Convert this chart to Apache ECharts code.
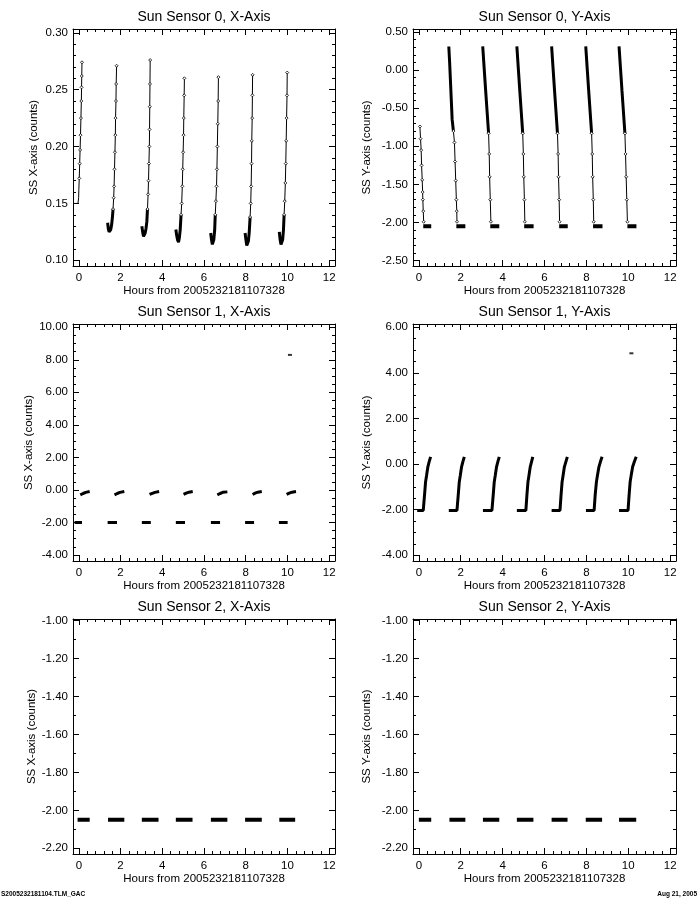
<!DOCTYPE html>
<html>
<head>
<meta charset="utf-8">
<script src="https://cdn.jsdelivr.net/npm/echarts@6/dist/echarts.min.js"></script>
<style>html,body{margin:0;padding:0;background:#fff}#c{width:700px;height:900px}</style>
</head>
<body>
<div id="c"></div>
<script>
// ---------- data (hours, counts) ; null breaks a segment ----------
const hourTicks = [0, 2, 4, 6, 8, 10, 12];
const xLabel = 'Hours from 2005232181107328';
const titles = ['Sun Sensor 0, X-Axis', 'Sun Sensor 0, Y-Axis', 'Sun Sensor 1, X-Axis', 'Sun Sensor 1, Y-Axis', 'Sun Sensor 2, X-Axis', 'Sun Sensor 2, Y-Axis'];
const yNames = ['SS X-axis (counts)', 'SS Y-axis (counts)', 'SS X-axis (counts)', 'SS Y-axis (counts)', 'SS X-axis (counts)', 'SS Y-axis (counts)'];

const ticks0x = [0.10, 0.15, 0.20, 0.25, 0.30];
const ticks0y = [-2.5, -2.0, -1.5, -1.0, -0.5, 0.0, 0.5];
const ticks1x = [-4, -2, 0, 2, 4, 6, 8, 10];
const ticks1y = [-4, -2, 0, 2, 4, 6];
const ticks2 = [-2.2, -2.0, -1.8, -1.6, -1.4, -1.2, -1.0];

// Sensor 0 X: first thin step, bottom hooks (thick) and steep rises (sparse diamonds)
const ss0xStart = [
  [-0.27,0.150],[-0.15,0.150],[-0.04,0.150],[-0.01,0.155],[0.00,0.162],[0.02,0.172]
];
const ss0xHook = [
  [1.38,0.133],[1.41,0.128],[1.45,0.125],[1.49,0.124],[1.53,0.127],[1.57,0.131],[1.61,0.138],[1.64,0.145], null,
  [3.02,0.130],[3.06,0.125],[3.10,0.121],[3.14,0.120],[3.18,0.124],[3.22,0.128],[3.26,0.134],[3.29,0.145], null,
  [4.65,0.127],[4.69,0.122],[4.73,0.118],[4.78,0.116],[4.82,0.120],[4.86,0.127],[4.90,0.140], null,
  [6.32,0.124],[6.36,0.118],[6.40,0.114],[6.43,0.113],[6.47,0.118],[6.51,0.126],[6.54,0.140], null,
  [7.97,0.124],[8.01,0.118],[8.05,0.113],[8.09,0.112],[8.13,0.117],[8.17,0.125],[8.21,0.138], null,
  [9.61,0.125],[9.65,0.118],[9.69,0.114],[9.73,0.113],[9.77,0.118],[9.81,0.127],[9.84,0.140]
];
const ss0xRise = [
  [0.02,0.172],[0.04,0.185],[0.06,0.197],[0.08,0.210],[0.10,0.225],[0.12,0.240],[0.13,0.252],[0.14,0.262],[0.15,0.274], null,
  [1.64,0.145],[1.67,0.155],[1.69,0.165],[1.71,0.180],[1.73,0.195],[1.75,0.210],[1.76,0.225],[1.78,0.240],[1.79,0.255],[1.81,0.271], null,
  [3.29,0.145],[3.32,0.158],[3.34,0.170],[3.36,0.185],[3.38,0.200],[3.39,0.215],[3.40,0.235],[3.41,0.255],[3.42,0.276], null,
  [4.90,0.140],[4.93,0.150],[4.96,0.165],[4.98,0.180],[5.00,0.195],[5.02,0.210],[5.03,0.225],[5.05,0.245],[5.06,0.260], null,
  [6.54,0.140],[6.57,0.152],[6.60,0.165],[6.62,0.180],[6.64,0.200],[6.66,0.220],[6.68,0.240],[6.69,0.261], null,
  [8.21,0.138],[8.24,0.150],[8.26,0.165],[8.28,0.185],[8.29,0.205],[8.31,0.225],[8.32,0.245],[8.33,0.263], null,
  [9.84,0.140],[9.87,0.152],[9.90,0.168],[9.92,0.185],[9.94,0.205],[9.96,0.225],[9.98,0.245],[9.99,0.265]
];

// Sensor 0 Y: thick upper descents, sparse lower descents, flats
const ss0yTop = [
  [1.43,0.31],[1.47,0.10],[1.51,-0.15],[1.55,-0.40],[1.59,-0.65],[1.65,-0.80], null,
  [3.05,0.31],[3.12,0.02],[3.19,-0.27],[3.26,-0.55],[3.33,-0.83], null,
  [4.68,0.31],[4.75,0.02],[4.82,-0.27],[4.89,-0.55],[4.96,-0.83], null,
  [6.34,0.31],[6.41,0.02],[6.48,-0.27],[6.55,-0.55],[6.62,-0.83], null,
  [7.97,0.31],[8.04,0.02],[8.11,-0.27],[8.18,-0.55],[8.25,-0.83], null,
  [9.56,0.31],[9.63,0.02],[9.70,-0.27],[9.77,-0.55],[9.84,-0.83]
];
const ss0yLow = [
  [0.05,-0.74],[0.08,-0.90],[0.11,-1.05],[0.13,-1.25],[0.16,-1.44],[0.18,-1.60],[0.19,-1.70],[0.21,-1.85],[0.23,-1.99], null,
  [1.65,-0.80],[1.70,-0.95],[1.73,-1.20],[1.76,-1.45],[1.79,-1.70],[1.81,-1.85],[1.82,-1.99], null,
  [3.33,-0.83],[3.36,-1.10],[3.38,-1.40],[3.41,-1.70],[3.44,-1.99], null,
  [4.96,-0.83],[4.99,-1.10],[5.01,-1.40],[5.04,-1.70],[5.06,-1.99], null,
  [6.62,-0.83],[6.65,-1.10],[6.67,-1.40],[6.70,-1.70],[6.72,-1.99], null,
  [8.25,-0.83],[8.28,-1.10],[8.30,-1.40],[8.33,-1.70],[8.35,-1.99], null,
  [9.84,-0.83],[9.87,-1.10],[9.90,-1.40],[9.93,-1.70],[9.96,-1.99]
];
const ss0yFlat = [
  [0.21,-2.05],[0.59,-2.05], null, [1.79,-2.05],[2.22,-2.05], null, [3.41,-2.05],[3.84,-2.05], null,
  [5.03,-2.05],[5.48,-2.05], null, [6.70,-2.05],[7.11,-2.05], null, [8.32,-2.05],[8.77,-2.05], null, [9.96,-2.05],[10.39,-2.05]
];

const ss1x = [
  [0.07,-0.30],[0.20,-0.22],[0.33,-0.15],[0.52,-0.10], null,
  [1.71,-0.30],[1.84,-0.22],[1.97,-0.15],[2.18,-0.10], null,
  [3.39,-0.28],[3.52,-0.21],[3.65,-0.15],[3.85,-0.10], null,
  [5.02,-0.28],[5.15,-0.20],[5.28,-0.14],[5.46,-0.10], null,
  [6.64,-0.30],[6.77,-0.22],[6.90,-0.15],[7.12,-0.12], null,
  [8.33,-0.28],[8.45,-0.20],[8.58,-0.14],[8.77,-0.10], null,
  [9.96,-0.28],[10.09,-0.20],[10.22,-0.14],[10.41,-0.10], null,
  [-0.20,-2.0],[0.15,-2.0], null, [1.38,-2.0],[1.83,-2.0], null, [3.02,-2.0],[3.45,-2.0], null,
  [4.65,-2.0],[5.09,-2.0], null, [6.33,-2.0],[6.77,-2.0], null, [7.97,-2.0],[8.40,-2.0], null, [9.59,-2.0],[10.01,-2.0]
];
const ss1xOut = [[10.12, 8.30]];

const ss1y = [
  [-0.08,-2.03],[0.21,-2.03],[0.27,-1.36],[0.32,-0.78],[0.37,-0.49],[0.43,-0.12],[0.49,0.10],[0.56,0.32], null,
  [1.43,-2.03],[1.82,-2.03],[1.88,-1.36],[1.93,-0.78],[1.98,-0.49],[2.04,-0.12],[2.10,0.10],[2.17,0.32], null,
  [3.06,-2.03],[3.49,-2.03],[3.55,-1.36],[3.60,-0.78],[3.65,-0.49],[3.71,-0.12],[3.77,0.10],[3.84,0.32], null,
  [4.68,-2.03],[5.11,-2.03],[5.16,-1.36],[5.21,-0.78],[5.26,-0.49],[5.32,-0.12],[5.38,0.10],[5.44,0.32], null,
  [6.34,-2.03],[6.74,-2.03],[6.79,-1.36],[6.84,-0.78],[6.89,-0.49],[6.95,-0.12],[7.02,0.10],[7.09,0.32], null,
  [7.98,-2.03],[8.37,-2.03],[8.42,-1.36],[8.48,-0.78],[8.53,-0.49],[8.60,-0.12],[8.67,0.10],[8.75,0.32], null,
  [9.56,-2.03],[9.99,-2.03],[10.04,-1.36],[10.09,-0.78],[10.14,-0.49],[10.21,-0.12],[10.29,0.10],[10.38,0.32]
];
const ss1yOut = [[10.15, 4.86]];

const ss2x = [
  [-0.06,-2.05],[0.52,-2.05], null, [1.40,-2.05],[2.18,-2.05], null, [3.02,-2.05],[3.82,-2.05], null,
  [4.65,-2.05],[5.45,-2.05], null, [6.33,-2.05],[7.12,-2.05], null, [7.97,-2.05],[8.77,-2.05], null, [9.61,-2.05],[10.37,-2.05]
];
const ss2y = [
  [0.00,-2.05],[0.59,-2.05], null, [1.46,-2.05],[2.22,-2.05], null, [3.06,-2.05],[3.84,-2.05], null,
  [4.68,-2.05],[5.47,-2.05], null, [6.34,-2.05],[7.10,-2.05], null, [7.97,-2.05],[8.75,-2.05], null, [9.56,-2.05],[10.38,-2.05]
];

// ---------- layout / style ----------
const FONT = 'Liberation Sans';
const X_MIN = -0.28, X_MAX = 12.28;
const cols = [{left: 73, width: 262, gap: 33}, {left: 413, width: 263, gap: 40}];
const rows = [{top: 29, height: 237}, {top: 324, height: 237}, {top: 619, height: 235}];

const panels = [
  {c:0, r:0, ymin:0.0950, ymax:0.3033, ticks:ticks0x, minor:0.01},
  {c:1, r:0, ymin:-2.57, ymax:0.539, ticks:ticks0y, minor:0.1},
  {c:0, r:1, ymin:-4.37, ymax:10.2, ticks:ticks1x, minor:0.5},
  {c:1, r:1, ymin:-4.25, ymax:6.145, ticks:ticks1y, minor:0.5},
  {c:0, r:2, ymin:-2.23, ymax:-0.991, ticks:ticks2, minor:0.1},
  {c:1, r:2, ymin:-2.23, ymax:-0.991, ticks:ticks2, minor:0.1}
];

function minorsBetween(major, step) {
  const out = [];
  const lo = major[0], hi = major[major.length - 1];
  const n = Math.round((hi - lo) / step);
  for (let k = 0; k <= n; k++) {
    const v = Math.round((lo + k * step) * 1e6) / 1e6;
    if (!major.some(m => Math.abs(m - v) < step / 10)) out.push(v);
  }
  return out;
}
const xMinor = minorsBetween(hourTicks, 0.4);

const black = {color: '#000', width: 1};
const grids = [], xAxes = [], yAxes = [], series = [];

panels.forEach((p, i) => {
  const col = cols[p.c], row = rows[p.r];
  grids.push({left: col.left, top: row.top, width: col.width, height: row.height, containLabel: false});
  const yMinor = minorsBetween(p.ticks, p.minor);
  const baseX = {gridIndex: i, type: 'value', min: X_MIN, max: X_MAX, splitLine: {show: false}};
  const baseY = {gridIndex: i, type: 'value', min: p.ymin, max: p.ymax, splitLine: {show: false}};
  xAxes.push(Object.assign({}, baseX, {
    position: 'bottom',
    axisLine: {show: true, onZero: false, lineStyle: black},
    axisTick: {show: true, inside: true, length: 6, customValues: hourTicks, lineStyle: black},
    axisLabel: {show: true, customValues: hourTicks, margin: 6, color: '#000', fontSize: 11.5, fontFamily: FONT},
    name: xLabel, nameLocation: 'middle', nameGap: 17,
    nameTextStyle: {color: '#000', fontSize: 11.5, fontFamily: FONT}
  }));
  xAxes.push(Object.assign({}, baseX, {
    position: 'bottom',
    axisLine: {show: false, onZero: false},
    axisTick: {show: true, inside: true, length: 3, customValues: xMinor, lineStyle: black},
    axisLabel: {show: false}
  }));
  xAxes.push(Object.assign({}, baseX, {
    position: 'top',
    axisLine: {show: true, onZero: false, lineStyle: black},
    axisTick: {show: true, inside: true, length: 6, customValues: hourTicks, lineStyle: black},
    axisLabel: {show: false},
    name: titles[i], nameLocation: 'middle', nameGap: 5,
    nameTextStyle: {color: '#000', fontSize: 14, fontFamily: FONT}
  }));
  xAxes.push(Object.assign({}, baseX, {
    position: 'top',
    axisLine: {show: false, onZero: false},
    axisTick: {show: true, inside: true, length: 3, customValues: xMinor, lineStyle: black},
    axisLabel: {show: false}
  }));
  yAxes.push(Object.assign({}, baseY, {
    position: 'left',
    axisLine: {show: true, onZero: false, lineStyle: black},
    axisTick: {show: true, inside: true, length: 6, customValues: p.ticks, lineStyle: black},
    axisLabel: {show: true, customValues: p.ticks, margin: 5, color: '#000', fontSize: 11.5, fontFamily: FONT,
                formatter: v => Number(v).toFixed(2)},
    name: yNames[i], nameLocation: 'middle', nameGap: col.gap, nameRotate: 90,
    nameTextStyle: {color: '#000', fontSize: 11.5, fontFamily: FONT}
  }));
  yAxes.push(Object.assign({}, baseY, {
    position: 'left',
    axisLine: {show: false, onZero: false},
    axisTick: {show: true, inside: true, length: 3, customValues: yMinor, lineStyle: black},
    axisLabel: {show: false}
  }));
  yAxes.push(Object.assign({}, baseY, {
    position: 'right',
    axisLine: {show: true, onZero: false, lineStyle: black},
    axisTick: {show: true, inside: true, length: 6, customValues: p.ticks, lineStyle: black},
    axisLabel: {show: false}
  }));
  yAxes.push(Object.assign({}, baseY, {
    position: 'right',
    axisLine: {show: false, onZero: false},
    axisTick: {show: true, inside: true, length: 3, customValues: yMinor, lineStyle: black},
    axisLabel: {show: false}
  }));
});

function lineSeries(i, data, width, sym) {
  return {
    type: 'line', xAxisIndex: 4 * i, yAxisIndex: 4 * i, data: data, connectNulls: false,
    showSymbol: !!sym, symbol: sym || 'none', symbolSize: 3,
    itemStyle: {color: '#fff', borderColor: '#000', borderWidth: 0.8},
    lineStyle: {color: '#000', width: width}, silent: true, z: 3
  };
}
function dotSeries(i, data) {
  return {type: 'scatter', xAxisIndex: 4 * i, yAxisIndex: 4 * i, data: data,
          symbol: 'rect', symbolSize: [4, 2], itemStyle: {color: '#000'}, silent: true};
}
series.push(lineSeries(0, ss0xStart, 1));
series.push(lineSeries(0, ss0xHook, 3));
series.push(lineSeries(0, ss0xRise, 1, 'diamond'));
series.push(lineSeries(1, ss0yTop, 3));
series.push(lineSeries(1, ss0yLow, 1, 'diamond'));
series.push(lineSeries(1, ss0yFlat, 4));
series.push(lineSeries(2, ss1x, 3));
series.push(dotSeries(2, ss1xOut));
series.push(lineSeries(3, ss1y, 3));
series.push(dotSeries(3, ss1yOut));
series.push(lineSeries(4, ss2x, 4));
series.push(lineSeries(5, ss2y, 4));

const chart = echarts.init(document.getElementById('c'), null, {renderer: 'canvas'});
chart.setOption({
  backgroundColor: '#fff',
  animation: false,
  grid: grids,
  xAxis: xAxes,
  yAxis: yAxes,
  series: series,
  graphic: [
    {type: 'text', left: 1, top: 891, style: {text: 'S2005232181104.TLM_GAC', fontSize: 6.5, fontWeight: 'bold', fontFamily: FONT, fill: '#000'}},
    {type: 'text', right: 3, top: 891, style: {text: 'Aug 21, 2005', fontSize: 6.5, fontWeight: 'bold', fontFamily: FONT, fill: '#000'}}
  ]
});
</script>
</body>
</html>
